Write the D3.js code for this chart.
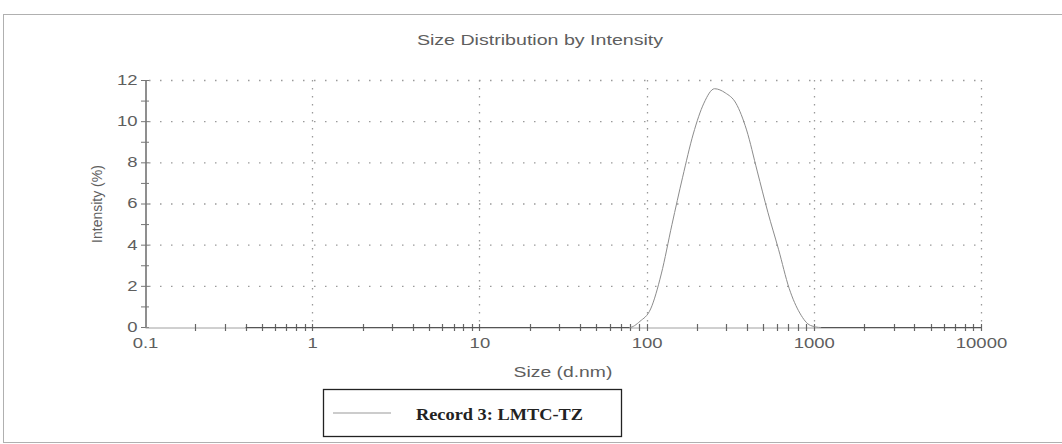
<!DOCTYPE html>
<html>
<head>
<meta charset="utf-8">
<script src="https://cdn.jsdelivr.net/npm/d3@7"></script>
<style>
  html, body { margin: 0; padding: 0; background: #fff; }
  svg { display: block; }
</style>
</head>
<body>
<svg id="chart" width="1062" height="444"></svg>
<script>
// Size classes (d.nm), logarithmic bins
const sizes = [0.4, 0.4632, 0.5365, 0.6213, 0.7195, 0.8332, 0.9649, 1.117, 1.294, 1.499,
  1.736, 2.01, 2.328, 2.696, 3.122, 3.615, 4.187, 4.849, 5.615, 6.503,
  7.531, 8.721, 10.1, 11.7, 13.54, 15.69, 18.17, 21.04, 24.36, 28.21,
  32.67, 37.84, 43.82, 50.75, 58.77, 68.06, 78.82, 91.28, 105.7, 122.4,
  141.8, 164.2, 190.1, 220.2, 255.0, 295.3, 342.0, 396.1, 458.7, 531.2,
  615.1, 712.4, 825.0, 955.4, 1106, 1281, 1484, 1718, 1990, 2305,
  2669, 3091, 3580, 4145, 4801, 5560, 6439, 7456, 8635, 10000];

// Intensity (%) for each size class
const intensity = [0, 0, 0, 0, 0, 0, 0, 0, 0, 0,
  0, 0, 0, 0, 0, 0, 0, 0, 0, 0,
  0, 0, 0, 0, 0, 0, 0, 0, 0, 0,
  0, 0, 0, 0, 0, 0, 0, 0.3, 0.9, 2.6,
  5.0, 7.3, 9.4, 10.9, 11.6, 11.4, 10.9, 9.6, 7.6, 5.6,
  3.8, 1.9, 0.7, 0.1, 0, 0, 0, 0, 0, 0,
  0, 0, 0, 0, 0, 0, 0, 0, 0, 0];

const xTickValues = [0.1, 1, 10, 100, 1000, 10000];
const xTickLabels = ["0.1", "1", "10", "100", "1000", "10000"];
const yTickValues = [0, 2, 4, 6, 8, 10, 12];
const yMinorValues = [1, 3, 5, 7, 9, 11];

const seriesName = "Record 3: LMTC-TZ";
const titleText = "Size Distribution by Intensity";
const xTitle = "Size (d.nm)";
const yTitle = "Intensity (%)";

const svg = d3.select("#chart");
const textColor = "#5e5e5e";
const font = "'Liberation Sans', Arial, sans-serif";
const wide = 1.32; // horizontal widening of the horizontal labels

// widen a text element horizontally, keeping its anchor
function widen(sel, k) {
  sel.each(function () {
    const w = this.getComputedTextLength();
    d3.select(this).attr("textLength", w * k).attr("lengthAdjust", "spacingAndGlyphs");
  });
}

const plot = { left: 145, right: 981, top: 80, bottom: 327 };

const x = d3.scaleLog().domain([0.1, 10000]).range([plot.left, plot.right]);
const y = d3.scaleLinear().domain([0, 12]).range([plot.bottom, plot.top]);

// outer frame
svg.append("rect")
  .attr("x", 3.5).attr("y", 14.5)
  .attr("width", 1070).attr("height", 428)
  .attr("fill", "none").attr("stroke", "#b0b0b0").attr("stroke-width", 1);

// title
svg.append("text")
  .attr("x", 540).attr("y", 45)
  .attr("text-anchor", "middle")
  .attr("font-family", font).attr("font-size", 14)
  .attr("fill", textColor)
  .text(titleText)
  .call(widen, 1.4);

// horizontal grid lines
svg.append("g")
  .selectAll("line")
  .data(yTickValues.filter(v => v > 0))
  .join("line")
  .attr("x1", plot.left + 4).attr("x2", plot.right)
  .attr("y1", d => y(d) + 0.5).attr("y2", d => y(d) + 0.5)
  .attr("stroke", "#9a9a9a").attr("stroke-width", 1.3)
  .attr("stroke-dasharray", "1.5,9.5");

// vertical grid lines
svg.append("g")
  .selectAll("line")
  .data(xTickValues.filter(v => v > 0.1))
  .join("line")
  .attr("x1", d => Math.round(x(d)) + 0.5).attr("x2", d => Math.round(x(d)) + 0.5)
  .attr("y1", plot.top).attr("y2", plot.bottom)
  .attr("stroke", "#9a9a9a").attr("stroke-width", 1.3)
  .attr("stroke-dasharray", "1.5,6.5");

// y axis
const yAxis = d3.axisLeft(y).tickValues(yTickValues).tickSize(0).tickPadding(8)
  .tickFormat(d3.format("d"));
const gy = svg.append("g").attr("transform", `translate(${plot.left + 0.5},0)`).call(yAxis);
gy.select(".domain").attr("stroke", "#6a6a6a").attr("stroke-width", 1.5);
gy.selectAll("text").attr("font-family", font).attr("font-size", 14).attr("fill", textColor)
  .call(widen, wide);

// y tick crosses (major and minor)
svg.append("g")
  .selectAll("line")
  .data(yTickValues.concat(yMinorValues))
  .join("line")
  .attr("x1", plot.left - 4).attr("x2", plot.left + 4)
  .attr("y1", d => y(d) + 0.5).attr("y2", d => y(d) + 0.5)
  .attr("stroke", "#777").attr("stroke-width", 1);

// x axis
const xAxis = d3.axisBottom(x).tickValues(xTickValues).tickSize(0).tickPadding(11)
  .tickFormat((d, i) => xTickLabels[i]);
const gx = svg.append("g").attr("transform", `translate(0,${plot.bottom + 0.5})`).call(xAxis);
gx.select(".domain").attr("stroke", "#a0a0a0").attr("stroke-width", 1);
gx.selectAll("text").attr("font-family", font).attr("font-size", 14).attr("fill", textColor)
  .call(widen, wide);

// x minor tick crosses at 2..10 of each decade
const xMinor = [];
for (const dec of [0.1, 1, 10, 100, 1000]) for (let k = 2; k <= 10; k++) xMinor.push(dec * k);
svg.append("g")
  .selectAll("line")
  .data(xMinor)
  .join("line")
  .attr("x1", d => Math.round(x(d)) + 0.5).attr("x2", d => Math.round(x(d)) + 0.5)
  .attr("y1", plot.bottom - 3).attr("y2", plot.bottom + 4)
  .attr("stroke", "#666").attr("stroke-width", 1.2);

// axis titles
svg.append("text")
  .attr("x", 563).attr("y", 377)
  .attr("text-anchor", "middle")
  .attr("font-family", font).attr("font-size", 14)
  .attr("fill", textColor)
  .text(xTitle)
  .call(widen, 1.38);

svg.append("text")
  .attr("transform", `translate(102,204) rotate(-90)`)
  .attr("text-anchor", "middle")
  .attr("font-family", font).attr("font-size", 14)
  .attr("fill", textColor)
  .text(yTitle);

// distribution curve: the flat part along zero is drawn darker than the raised peak
const pts = sizes.map((s, i) => ({ s, v: intensity[i] }));
const line = d3.line().x(d => x(d.s)).y(d => y(d.v) + 0.5).curve(d3.curveMonotoneX);
svg.append("path")
  .datum(pts)
  .attr("d", line)
  .attr("fill", "none")
  .attr("stroke", "#8c8c8c")
  .attr("stroke-width", 1);
const flatLine = d3.line().defined(d => d.v === 0)
  .x(d => x(d.s)).y(d => y(d.v) + 0.5);
svg.append("path")
  .datum(pts)
  .attr("d", flatLine)
  .attr("fill", "none")
  .attr("stroke", "#555")
  .attr("stroke-width", 1.2);

// legend
const lg = svg.append("g");
lg.append("rect")
  .attr("x", 323.5).attr("y", 389.5).attr("width", 298).attr("height", 47)
  .attr("fill", "#fff").attr("stroke", "#222").attr("stroke-width", 1.3);
lg.append("line")
  .attr("x1", 333).attr("x2", 391).attr("y1", 413).attr("y2", 413)
  .attr("stroke", "#999").attr("stroke-width", 1);
lg.append("text")
  .attr("x", 416).attr("y", 420)
  .attr("font-family", "'Liberation Serif', 'Times New Roman', serif")
  .attr("font-size", 17).attr("font-weight", "bold")
  .attr("fill", "#222")
  .text(seriesName)
  .each(function () {
    d3.select(this).attr("textLength", 167).attr("lengthAdjust", "spacingAndGlyphs");
  });
</script>
</body>
</html>
